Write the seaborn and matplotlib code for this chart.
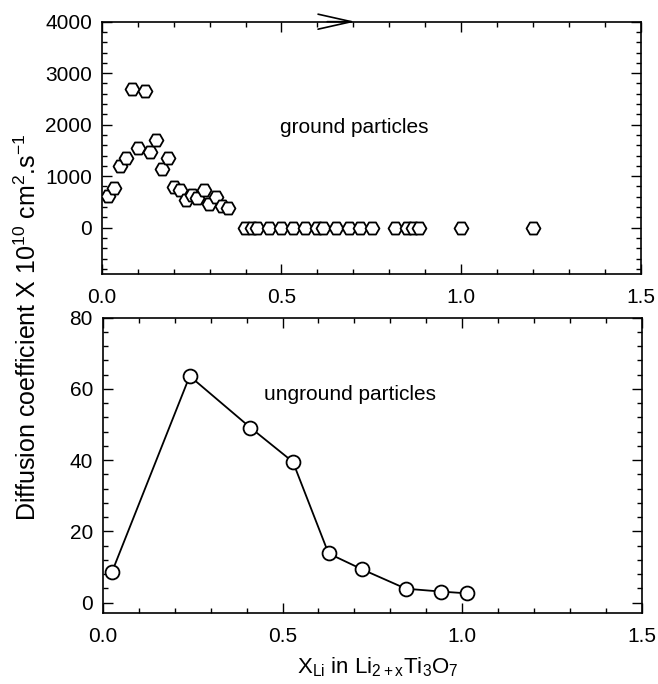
import matplotlib
matplotlib.use("Agg")
import matplotlib.pyplot as plt
from matplotlib.ticker import MultipleLocator
import seaborn as sns
import pandas as pd

# ground particles (x in Li2+xTi3O7, D x 1e10 cm2/s)
x_ground = [0.017, 0.035, 0.051, 0.068, 0.084, 0.102, 0.119, 0.134, 0.152, 0.169,
            0.185, 0.201, 0.218, 0.234, 0.250, 0.266, 0.285, 0.299, 0.317, 0.335,
            0.352, 0.399, 0.417, 0.433, 0.466, 0.499, 0.533, 0.566, 0.598, 0.616,
            0.652, 0.689, 0.718, 0.751, 0.817, 0.849, 0.867, 0.883, 1.0, 1.2]
d_ground = [620, 770, 1190, 1350, 2690, 1540, 2660, 1460, 1710, 1135,
            1350, 790, 725, 535, 630, 585, 725, 455, 595, 425,
            385, 0, 0, 0, 0, 0, 0, 0, 0, 0,
            0, 0, 0, 0, 0, 0, 0, 0, 0, 0]

# unground particles
x_unground = [0.026, 0.242, 0.411, 0.529, 0.628, 0.722, 0.843, 0.940, 1.012]
d_unground = [8.6, 63.6, 49.1, 39.5, 13.8, 9.3, 3.9, 3.1, 2.6]

x_ticks = [0.0, 0.5, 1.0, 1.5]
x_ticklabels = ["0.0", "0.5", "1.0", "1.5"]

df_g = pd.DataFrame({"x": x_ground, "D": d_ground})
df_u = pd.DataFrame({"x": x_unground, "D": d_unground})

sns.set_theme(style="ticks")
plt.rcParams["font.family"] = ["Liberation Sans", "DejaVu Sans"]
plt.rcParams["mathtext.fontset"] = "custom"
plt.rcParams["mathtext.rm"] = "Liberation Sans"
plt.rcParams["mathtext.it"] = "Liberation Sans"
for key in ["text.color", "axes.labelcolor", "xtick.color", "ytick.color", "axes.edgecolor"]:
    plt.rcParams[key] = "black"

fs = 15
fig = plt.figure(figsize=(6.58, 6.84), dpi=100)
ax1 = fig.add_axes([0.1546, 0.5994, 0.8196, 0.3689])
ax2 = fig.add_axes([0.1560, 0.1034, 0.8200, 0.4322])

sns.scatterplot(data=df_g, x="x", y="D", ax=ax1, marker="H", s=100,
                facecolor="white", edgecolor="black", linewidth=1.3, zorder=3)

sns.lineplot(data=df_u, x="x", y="D", ax=ax2, color="black", linewidth=1.3,
             marker="o", markersize=10, markerfacecolor="white",
             markeredgecolor="black", markeredgewidth=1.3, zorder=3)

ax1.set_xlim(0, 1.5)
ax1.set_ylim(-900, 4000)
ax1.yaxis.set_major_locator(MultipleLocator(1000))
ax1.yaxis.set_minor_locator(MultipleLocator(200))
ax2.set_xlim(0, 1.5)
ax2.set_ylim(-3, 80)
ax2.yaxis.set_major_locator(MultipleLocator(20))
ax2.yaxis.set_minor_locator(MultipleLocator(4))

for ax in (ax1, ax2):
    ax.set_xticks(x_ticks)
    ax.set_xticklabels(x_ticklabels)
    ax.xaxis.set_minor_locator(MultipleLocator(0.1))
    ax.tick_params(which="both", direction="in", top=True, right=True,
                   width=1.0, color="black")
    ax.tick_params(which="major", length=7, labelsize=fs)
    ax.tick_params(which="minor", length=3.5)
    ax.tick_params(axis="y", which="major", pad=7)
    ax.tick_params(axis="x", which="major", pad=10)
    ax.set_xlabel("")
    ax.set_ylabel("")
    for sp in ax.spines.values():
        sp.set_linewidth(1.2)
        sp.set_color("black")

ax1.text(0.496, 1950, "ground particles", fontsize=fs, va="center", ha="left")
ax2.text(0.449, 58.5, "unground particles", fontsize=fs, va="center", ha="left")

# chevron on the top spine of the upper panel
ax1.annotate("", xy=(0.705, 4000), xytext=(0.627, 4000), annotation_clip=False,
             arrowprops=dict(arrowstyle="->, head_length=2.0, head_width=0.45",
                             color="black", lw=1.2, shrinkA=0, shrinkB=0))

fig.text(0.042, 0.522, r"Diffusion coefficient X 10$^{10}$ cm$^{2}$.s$^{-1}$",
         rotation=90, fontsize=18, va="center", ha="center")
fig.text(0.574, 0.024, r"X$_{\rm Li}$ in Li$_{\rm 2+x}$Ti$_{3}$O$_{7}$",
         fontsize=16, va="center", ha="center")

fig.savefig("out.png", dpi=100)
